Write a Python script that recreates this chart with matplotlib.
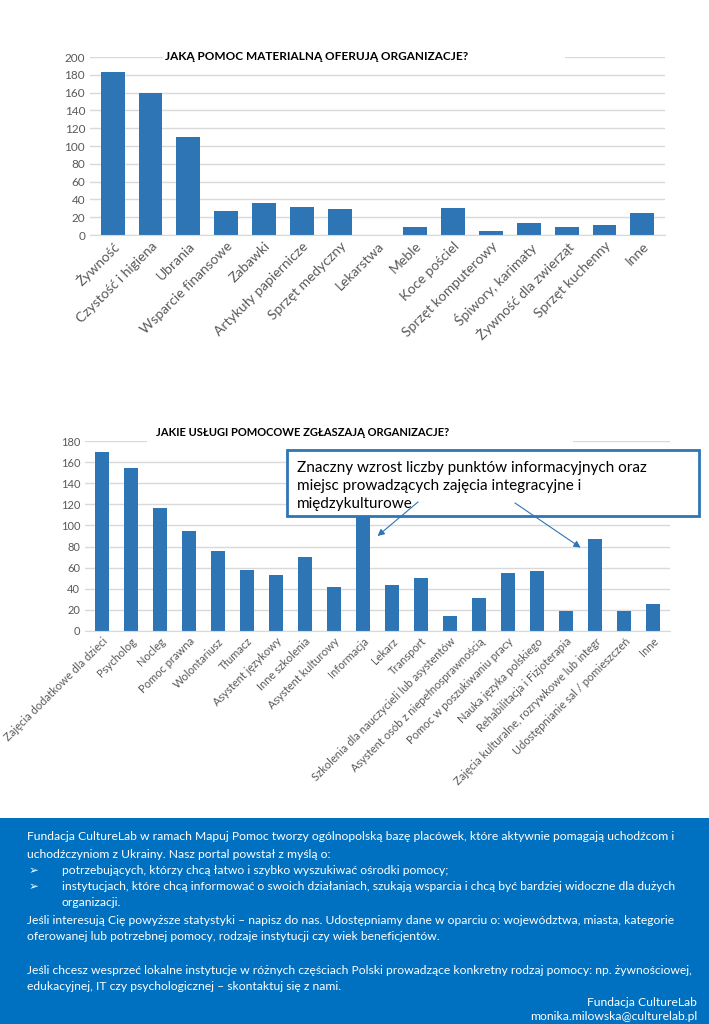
import matplotlib
matplotlib.use("Agg")
import matplotlib.pyplot as plt
from matplotlib.patches import Rectangle
from matplotlib.text import Annotation

plt.rcParams['font.family'] = ['Lato', 'DejaVu Sans']

# dane - wykres 1
kat1 = ["Żywność", "Czystość i higiena", "Ubrania", "Wsparcie finansowe", "Zabawki",
        "Artykuły papiernicze", "Sprzęt medyczny", "Lekarstwa", "Meble", "Koce pościel",
        "Sprzęt komputerowy", "Śpiwory, karimaty", "Żywność dla zwierząt",
        "Sprzęt kuchenny", "Inne"]
wart1 = [183, 160, 110, 27, 36, 31, 29, 0, 9, 30, 5, 13, 9, 11, 25]

# dane - wykres 2
kat2 = ["Zajęcia dodatkowe dla dzieci", "Psycholog", "Nocleg", "Pomoc prawna",
        "Wolontariusz", "Tłumacz", "Asystent językowy", "Inne szkolenia",
        "Asystent kulturowy", "Informacja", "Lekarz", "Transport",
        "Szkolenia dla nauczycieli lub asystentów",
        "Asystent osób z niepełnosprawnością", "Pomoc w poszukiwaniu pracy",
        "Nauka języka polskiego", "Rehabilitacja i Fizjoterapia",
        "Zajęcia kulturalne, rozrywkowe lub integr",
        "Udostępnianie sal / pomieszczeń", "Inne"]
wart2 = [170, 154, 117, 95, 76, 58, 53, 70, 42, 125, 44, 50, 14, 31, 55, 57, 19, 87, 19, 26]

niebieski = "#2E75B6"
szary = "#595959"
siatka = "#D9D9D9"

fig = plt.figure(figsize=(7.09, 10.24), dpi=100)

def styl(ax, ymax, krok, fs_y):
    ax.set_ylim(0, ymax)
    ax.set_yticks(range(0, ymax + 1, krok))
    ax.grid(axis='y', color=siatka, linewidth=1)
    ax.set_axisbelow(True)
    for s in ['top', 'right', 'left']:
        ax.spines[s].set_visible(False)
    ax.spines['bottom'].set_color(siatka)
    ax.tick_params(axis='both', length=0, colors=szary)
    ax.tick_params(axis='y', labelsize=fs_y)

# wykres 1
ax1 = fig.add_axes([0.127, 0.7705, 0.811, 0.1738])
x1 = range(len(kat1))
ax1.bar(x1, wart1, width=0.63, color=niebieski)
styl(ax1, 200, 20, 8.5)
ax1.set_xlim(-0.6, len(kat1) - 0.4)
ax1.set_xticks(list(x1))
ax1.set_xticklabels(kat1, rotation=45, ha='right', rotation_mode='anchor', fontsize=10)

fig.patches.append(Rectangle((163 / 709, 1 - 66 / 1024), (565 - 163) / 709, 18 / 1024,
                             transform=fig.transFigure, facecolor='white', edgecolor='none', zorder=2))
fig.text(317 / 709, 1 - 57 / 1024, "JAKĄ POMOC MATERIALNĄ OFERUJĄ ORGANIZACJE?",
         ha='center', va='center', fontsize=8.5, fontweight='bold', color='black', zorder=3)

# wykres 2
ax2 = fig.add_axes([0.12, 0.3838, 0.825, 0.1855])
x2 = range(len(kat2))
ax2.bar(x2, wart2, width=0.5, color=niebieski)
styl(ax2, 180, 20, 8)
ax2.set_xlim(-0.58, len(kat2) - 0.42)
ax2.set_xticks(list(x2))
ax2.set_xticklabels(kat2, rotation=45, ha='right', rotation_mode='anchor', fontsize=8)

fig.patches.append(Rectangle((147 / 709, 1 - 449 / 1024), (573 - 147) / 709, 16 / 1024,
                             transform=fig.transFigure, facecolor='white', edgecolor='none', zorder=2))
fig.text(303 / 709, 1 - 433 / 1024, "JAKIE USŁUGI POMOCOWE ZGŁASZAJĄ ORGANIZACJE?",
         ha='center', va='center', fontsize=8, fontweight='bold', color='black', zorder=3)

# ramka z komentarzem
fig.patches.append(Rectangle((287 / 709, 1 - 516 / 1024), (699 - 287) / 709, 66 / 1024,
                             transform=fig.transFigure, facecolor='white', edgecolor=niebieski,
                             linewidth=2, zorder=4))
fig.text(297 / 709, 1 - 486 / 1024,
         "Znaczny wzrost liczby punktów informacyjnych oraz\n"
         "miejsc prowadzących zajęcia integracyjne i\n"
         "międzykulturowe",
         ha='left', va='center', fontsize=11, color='black', linespacing=1.35, zorder=5)

# strzałki (na poziomie figury, żeby były nad ramką)
for cel, start in [((9.5, 90), (418, 1024 - 502)), ((16.5, 79), (515, 1024 - 503))]:
    strz = Annotation("", xy=cel, xycoords=ax2.transData, xytext=start,
                      textcoords='figure pixels',
                      arrowprops=dict(arrowstyle='-|>', color=niebieski, lw=0.8,
                                      mutation_scale=10, shrinkA=0, shrinkB=0))
    strz.set_zorder(6)
    fig.add_artist(strz)

# stopka
fig.patches.append(Rectangle((0, 0), 1, 206 / 1024, transform=fig.transFigure,
                             facecolor='#0070C0', edgecolor='none', zorder=1))
linie = [
    (27, 837, "Fundacja CultureLab w ramach Mapuj Pomoc tworzy ogólnopolską bazę placówek, które aktywnie pomagają uchodźcom i"),
    (27, 854, "uchodźczyniom z Ukrainy. Nasz portal powstał z myślą o:"),
    (62, 871, "potrzebujących, którzy chcą łatwo i szybko wyszukiwać ośrodki pomocy;"),
    (62, 887, "instytucjach, które chcą informować o swoich działaniach, szukają wsparcia i chcą być bardziej widoczne dla dużych"),
    (62, 903, "organizacji."),
    (27, 920, "Jeśli interesują Cię powyższe statystyki – napisz do nas. Udostępniamy dane w oparciu o: województwa, miasta, kategorie"),
    (27, 937, "oferowanej lub potrzebnej pomocy, rodzaje instytucji czy wiek beneficjentów."),
    (27, 970, "Jeśli chcesz wesprzeć lokalne instytucje w różnych częściach Polski prowadzące konkretny rodzaj pomocy: np. żywnościowej,"),
    (27, 986, "edukacyjnej, IT czy psychologicznej – skontaktuj się z nami."),
]
for x, y, t in linie:
    fig.text(x / 709, 1 - y / 1024, t, ha='left', va='center', fontsize=8.7, color='white', zorder=3)
for y in [871, 887]:
    fig.text(29 / 709, 1 - y / 1024, "➢", ha='left', va='center', fontsize=8.5, color='white',
             family=['DejaVu Sans'], zorder=3)
fig.text(697 / 709, 1 - 1002 / 1024, "Fundacja CultureLab", ha='right', va='center',
         fontsize=8.7, color='white', zorder=3)
fig.text(697 / 709, 1 - 1017 / 1024, "monika.milowska@culturelab.pl", ha='right', va='center',
         fontsize=8.7, color='white', zorder=3)

fig.savefig("out.png", dpi=100)
